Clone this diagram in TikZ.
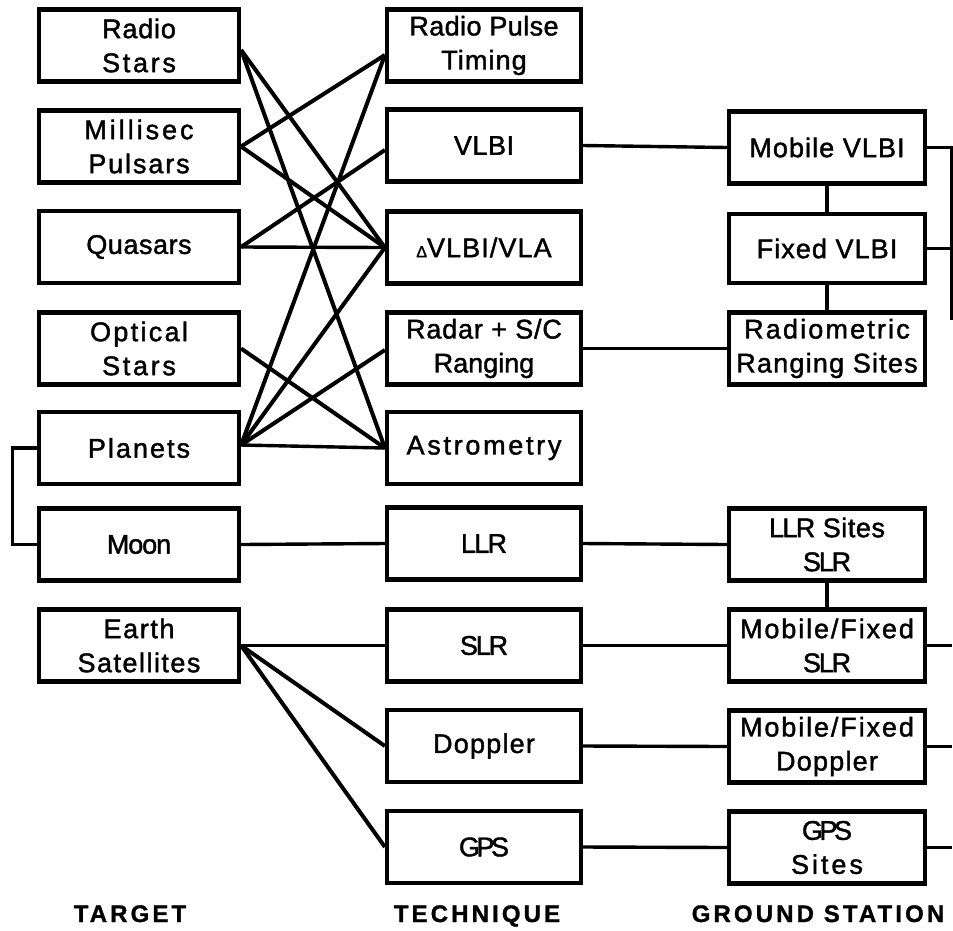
\documentclass[tikz,border=0pt]{standalone}
\usepackage{fontspec}
\setmainfont{Liberation Sans}
\newfontfamily\fB[FakeBold=1.5]{Liberation Sans}
\newfontfamily\fH[LetterSpace=13,FakeBold=1.2]{Liberation Sans Bold}
\newcommand{\lsp}[1]{\addfontfeature{LetterSpace=#1}}
\begin{document}
\begin{tikzpicture}[x=1pt,y=-1pt,
  box/.style={draw, line width=4.2pt, inner sep=0pt, minimum height=72pt,
    align=center, font=\fB\fontsize{27}{34}\selectfont},
  tbox/.style={box, minimum width=200pt},
  mbox/.style={box, minimum width=194pt},
  gbox/.style={box, minimum width=196pt},
  xline/.style={line width=4pt, line join=round},
  hline/.style={line width=3.4pt},
  ttl/.style={font=\fH\fontsize{24}{28}\selectfont, anchor=base, inner sep=0pt}]
\useasboundingbox (0,0) rectangle (953,930);
% target column
\node[tbox] (rs) at (139,45.5) {{\lsp{3}Radio}\\{\lsp{10}Stars}};
\node[tbox] (mp) at (139,146.5) {{\lsp{11}Millisec}\\{\lsp{7}Pulsars}};
\node[tbox] (q) at (139,247) {{\lsp{2}Quasars}};
\node[tbox] (os) at (139,348.5) {{\lsp{8.5}Optical}\\{\lsp{10}Stars}};
\node[tbox] (pl) at (139,448) {{\lsp{7.5}Planets}};
\node[tbox] (moon) at (139,544.5) {{\lsp{-4}Moon}};
\node[tbox] (es) at (139,645.5) {{\lsp{6}Earth}\\{\lsp{5.5}Satellites}};
% technique column
\node[mbox] (rpt) at (484,45.5) {{\lsp{1.5}Radio Pulse}\\{\lsp{4}Timing}};
\node[mbox] (vlbi) at (484,145.5) {{\lsp{2}VLBI}};
\node[mbox] (dv) at (484,247.5) {{\lsp{4}{\fontsize{16}{16}\selectfont Δ}VLBI/VLA}};
\node[mbox] (rd) at (484,348.5) {{\lsp{3}Radar + S/C}\\Ranging};
\node[mbox] (ast) at (484,448) {{\lsp{10}Astrometry}};
\node[mbox] (llr) at (484,543.5) {{\lsp{-6.5}LLR}};
\node[mbox] (slr) at (484,645.5) {{\lsp{-8}SLR}};
\node[mbox] (dop) at (484,746) {{\lsp{4.5}Doppler}};
\node[mbox] (gps) at (484,847) {{\lsp{-13}GPS}};
% ground station column
\node[gbox] (mv) at (827,147.5) {{\lsp{4}Mobile VLBI}};
\node[gbox,minimum height=69pt] (fv) at (827,248.5) {{\lsp{4}Fixed VLBI}};
\node[gbox] (rr) at (827,348.5) {{\lsp{8}Radiometric}\\{\lsp{4.5}Ranging Sites}};
\node[gbox] (ls) at (827,544.5) {{\lsp{-6}LLR} {\lsp{2}Sites}\\{\lsp{-8}SLR}};
\node[gbox] (mfs) at (827,645.5) {{\lsp{7}Mobile/Fixed}\\{\lsp{-8}SLR}};
\node[gbox] (mfd) at (827,746.5) {{\lsp{7}Mobile/Fixed}\\{\lsp{4.5}Doppler}};
\node[gbox] (gs) at (827,847.5) {{\lsp{-13}GPS}\\{\lsp{11}Sites}};
% titles
\node[ttl] (t1) at (130,922) {TARGET};
\node[ttl] (t2) at (477,922) {TECHNIQUE};
\node[ttl] (t3) at (818,922) {GROUND STATION};
% shifted connection points
\coordinate (rsA) at ([yshift=-4.5pt]rs.east);
\coordinate (plA) at ([yshift=3pt]pl.east);
\coordinate (rptA) at ([yshift=-9.5pt]rpt.west);
\coordinate (vlbiA) at ([yshift=-4.5pt]vlbi.west);
\coordinate (rdA) at ([yshift=-1.5pt]rd.west);
% crossing connectors
\draw[xline] (rsA) -- (dv.west);
\draw[xline] (rsA) -- (ast.west);
\draw[xline] (mp.east) -- (rptA);
\draw[xline] (mp.east) -- (dv.west);
\draw[xline] (q.east) -- (vlbiA);
\draw[hline] (q.east) -- (dv.west);
\draw[xline] (os.east) -- (ast.west);
\draw[xline] (plA) -- (rptA);
\draw[xline] (plA) -- (dv.west);
\draw[xline] (plA) -- (rdA);
\draw[hline] (plA) -- (ast.west);
\draw[hline] (es.east) -- (slr.west);
\draw[xline] (es.east) -- (dop.west);
\draw[xline] (es.east) -- (gps.west);
% horizontal connectors
\draw[hline] (moon.east) -- (llr.west);
\draw[hline] (vlbi.east) -- (mv.west);
\draw[hline] (rd.east) -- (rr.west);
\draw[hline] (llr.east) -- (ls.west);
\draw[hline] (slr.east) -- (mfs.west);
\draw[hline] (dop.east) -- (mfd.west);
\draw[hline] (gps.east) -- (gs.west);
% vertical connectors
\draw[hline] (mv.south) -- (fv.north);
\draw[hline] (fv.south) -- (rr.north);
\draw[hline] (ls.south) -- (mfs.north);
% bracket planets - moon
\draw[hline] (pl.west) -- ++(-24.4pt,0) |- (moon.west);
% right bus
\coordinate (busB) at (952,320);
\draw[hline] (mv.east) -| (busB);
\draw[hline] (fv.east) -- (fv.east -| busB);
\draw[hline] (mfs.east) -- (mfs.east -| busB);
\draw[hline] (mfd.east) -- (mfd.east -| busB);
\draw[hline] (gs.east) -- (gs.east -| busB);
\end{tikzpicture}
\end{document}
